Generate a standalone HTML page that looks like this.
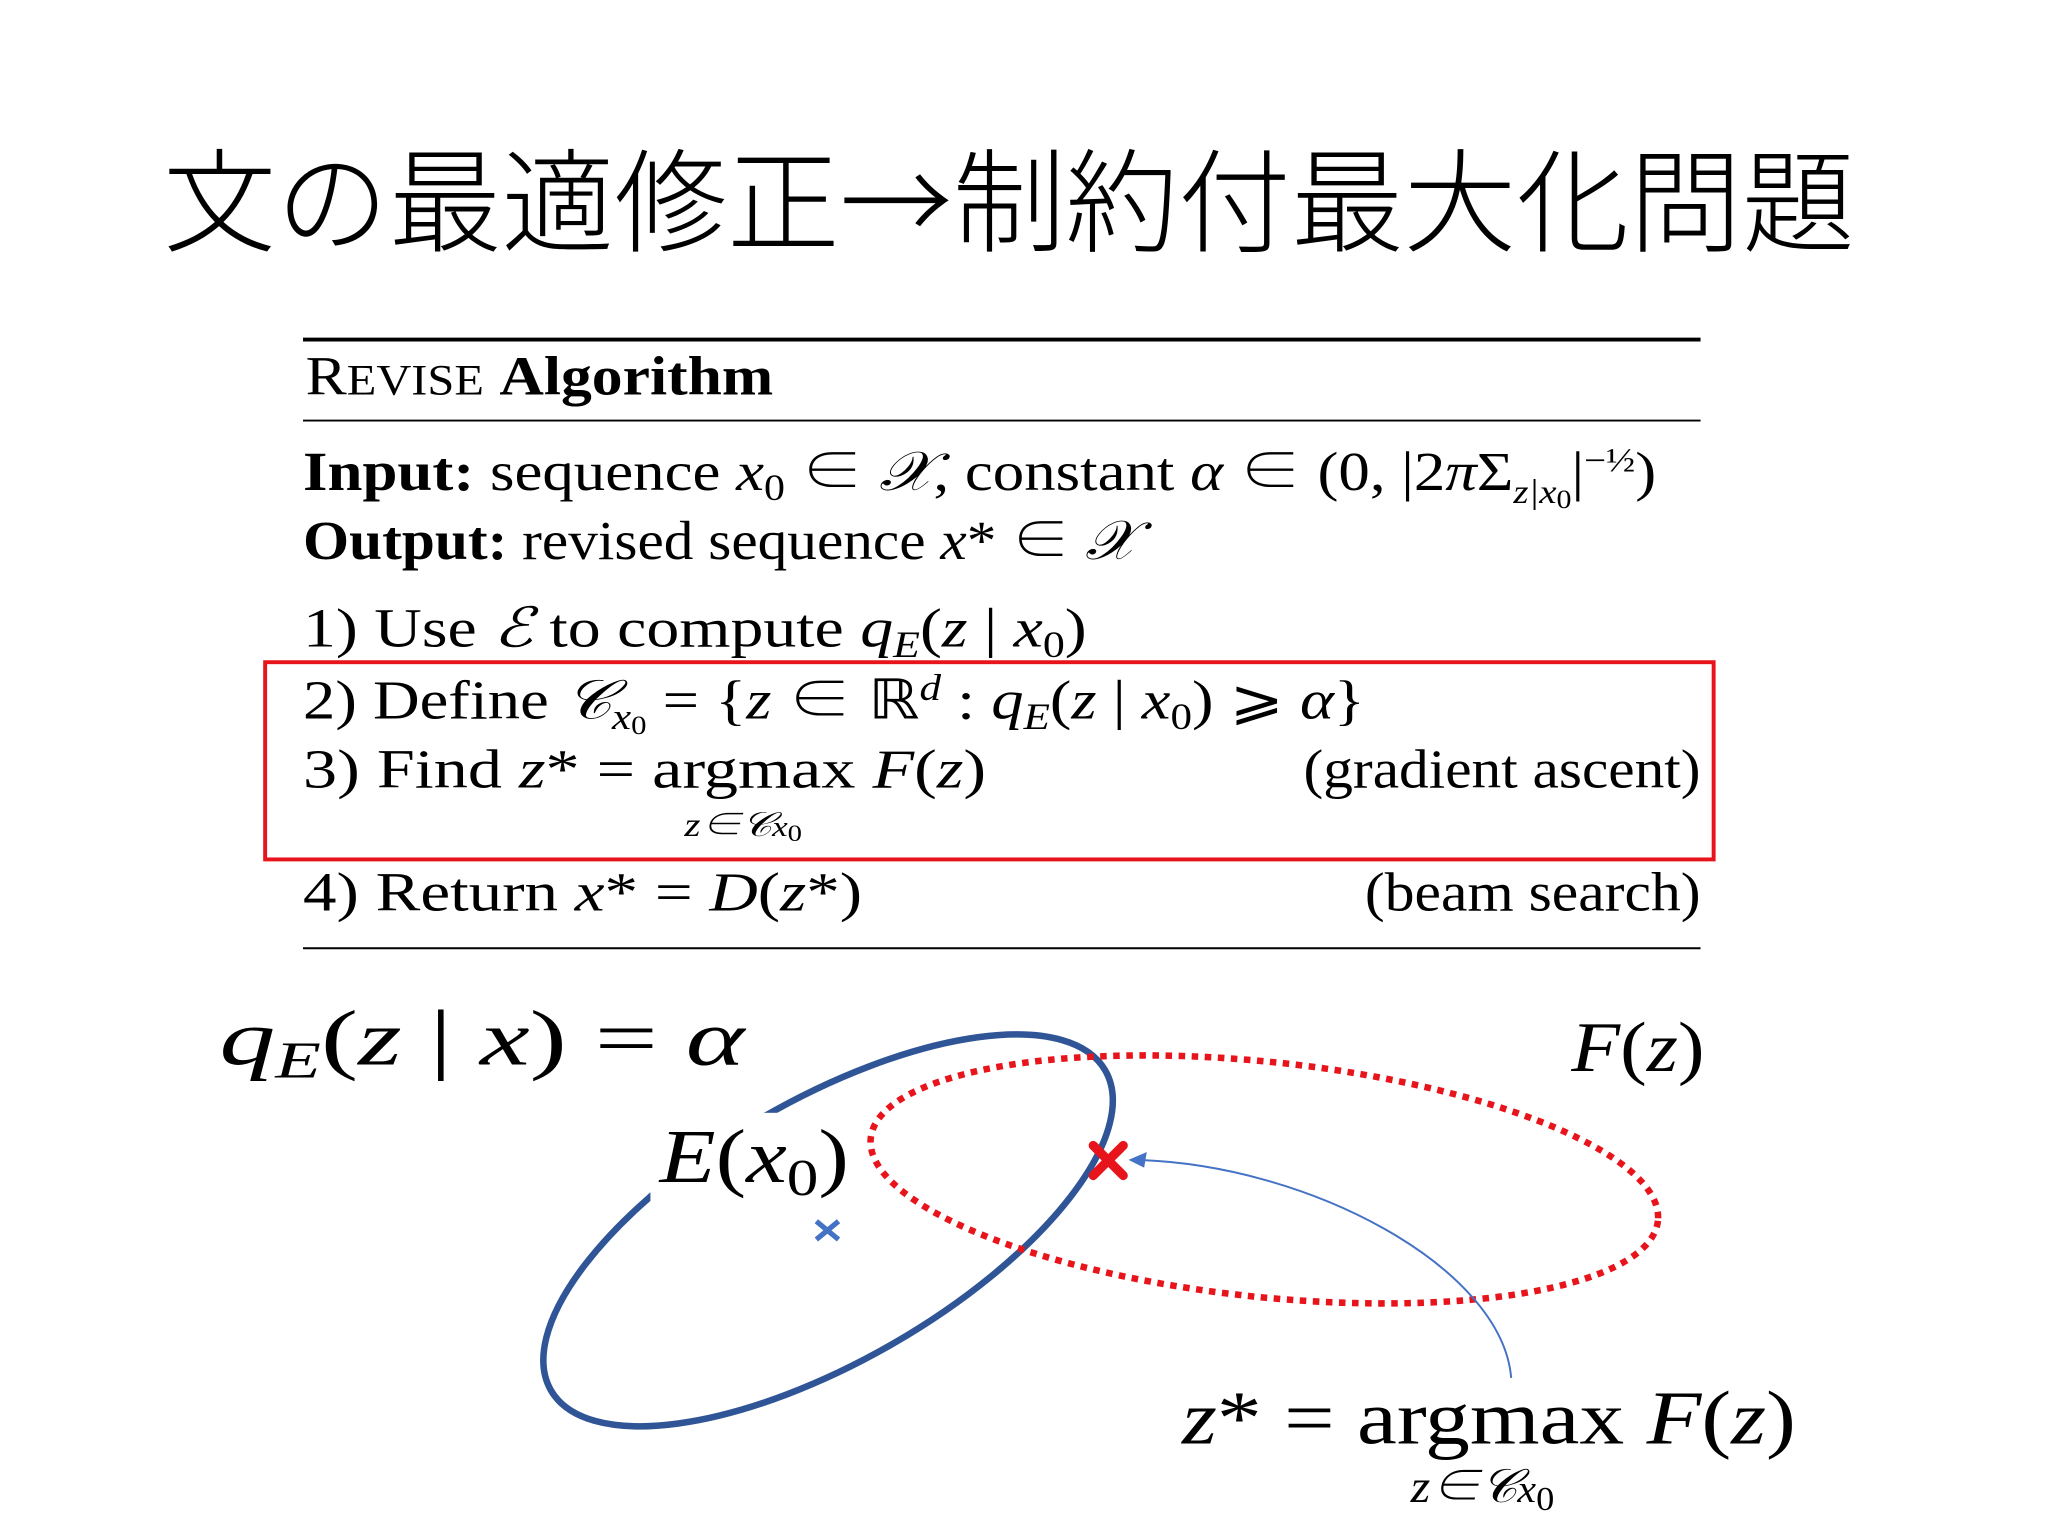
<!DOCTYPE html>
<html><head><meta charset="utf-8"><style>
html,body{margin:0;padding:0;background:#fff;}
svg{display:block;}
text{font-family:"Liberation Serif","Noto Serif CJK SC",serif;fill:#000;}
.i{font-style:italic;}
.b{font-weight:bold;}
</style></head><body>
<svg width="2048" height="1536" viewBox="0 0 1568 1176" xmlns="http://www.w3.org/2000/svg">
<rect width="1568" height="1176" fill="#fff"/>
<text x="125" y="186" font-size="86" textLength="1295" lengthAdjust="spacingAndGlyphs" style="font-family:'Noto Sans CJK JP',sans-serif;font-weight:300">文の最適修正→制約付最大化問題</text>

<line x1="232" y1="260" x2="1302" y2="260" stroke="#000" stroke-width="3"/>
<line x1="232" y1="322" x2="1302" y2="322" stroke="#000" stroke-width="1.5"/>
<line x1="232" y1="726" x2="1302" y2="726" stroke="#000" stroke-width="1.5"/>

<text x="234" y="302" font-size="42" textLength="358" lengthAdjust="spacingAndGlyphs">R<tspan font-size="33">EVISE</tspan> <tspan class="b">Algorithm</tspan></text>
<text x="232" y="375" font-size="42" textLength="1036" lengthAdjust="spacingAndGlyphs"><tspan class="b">Input:</tspan>  sequence <tspan class="i">x</tspan><tspan font-size="28" dy="8">0</tspan><tspan dy="-8"> ∈ </tspan><tspan class="i">𝒳</tspan>, constant <tspan class="i">α</tspan> ∈ (0, |2<tspan class="i">π</tspan>Σ<tspan font-size="26" dy="10" class="i">z|x</tspan><tspan font-size="20" dy="4">0</tspan><tspan dy="-14">|</tspan><tspan font-size="26" dy="-14">−½</tspan><tspan dy="14">)</tspan></text>
<text x="232" y="428" font-size="42" textLength="638" lengthAdjust="spacingAndGlyphs"><tspan class="b">Output:</tspan>  revised sequence <tspan class="i">x</tspan>* ∈ <tspan class="i">𝒳</tspan></text>
<text x="232" y="495" font-size="42" textLength="600" lengthAdjust="spacingAndGlyphs">1)  Use <tspan class="i">ℰ</tspan> to compute <tspan class="i">q</tspan><tspan font-size="28" dy="8" class="i">E</tspan><tspan dy="-8">(</tspan><tspan class="i">z</tspan> | <tspan class="i">x</tspan><tspan font-size="28" dy="8">0</tspan><tspan dy="-8">)</tspan></text>
<text x="232" y="550" font-size="42" textLength="813" lengthAdjust="spacingAndGlyphs">2)  Define <tspan class="i">𝒞</tspan><tspan font-size="28" dy="8" class="i">x</tspan><tspan font-size="20" dy="4">0</tspan><tspan dy="-12"> = {</tspan><tspan class="i">z</tspan> ∈ ℝ<tspan font-size="28" dy="-14" class="i">d</tspan><tspan dy="14"> : </tspan><tspan class="i">q</tspan><tspan font-size="28" dy="8" class="i">E</tspan><tspan dy="-8">(</tspan><tspan class="i">z</tspan> | <tspan class="i">x</tspan><tspan font-size="28" dy="8">0</tspan><tspan dy="-8">) ⩾ </tspan><tspan class="i">α</tspan>}</text>
<text x="232" y="603" font-size="42" textLength="523" lengthAdjust="spacingAndGlyphs">3)  Find <tspan class="i">z</tspan>* = argmax  <tspan class="i">F</tspan>(<tspan class="i">z</tspan>)</text>
<text x="524" y="640" font-size="26" class="i" textLength="90" lengthAdjust="spacingAndGlyphs">z∈𝒞<tspan font-size="22">x</tspan><tspan font-size="18" font-style="normal" dy="4">0</tspan></text>
<text x="998" y="603" font-size="42" textLength="304" lengthAdjust="spacingAndGlyphs">(gradient ascent)</text>
<rect x="203" y="507" width="1109" height="151" fill="none" stroke="#e8141c" stroke-width="3"/>
<text x="232" y="697" font-size="42" textLength="428" lengthAdjust="spacingAndGlyphs">4)  Return <tspan class="i">x</tspan>* = <tspan class="i">D</tspan>(<tspan class="i">z</tspan>*)</text>
<text x="1045" y="697" font-size="42" textLength="257" lengthAdjust="spacingAndGlyphs">(beam search)</text>

<text x="168" y="815" font-size="60" textLength="402" lengthAdjust="spacingAndGlyphs"><tspan class="i">q</tspan><tspan font-size="40" dy="10" class="i">E</tspan><tspan dy="-10">(</tspan><tspan class="i">z</tspan>  |  <tspan class="i">x</tspan>)  =  <tspan class="i">α</tspan></text>
<text x="1203" y="820" font-size="54" textLength="102" lengthAdjust="spacingAndGlyphs"><tspan class="i">F</tspan>(<tspan class="i">z</tspan>)</text>

<ellipse cx="634" cy="942" rx="245" ry="100" transform="rotate(-30 634 942)" fill="none" stroke="#2f5597" stroke-width="5"/>
<ellipse cx="968" cy="903" rx="303" ry="90" transform="rotate(6 968 903)" fill="none" stroke="#e8141c" stroke-width="5" stroke-dasharray="5 5"/>
<rect x="498" y="852" width="156" height="70" fill="#fff"/>
<text x="505" y="905" font-size="58" textLength="145" lengthAdjust="spacingAndGlyphs"><tspan class="i">E</tspan>(<tspan class="i">x</tspan><tspan font-size="40" dy="10">0</tspan><tspan dy="-10">)</tspan></text>
<path d="M1157 1055 C1150 970 1000 890 866 888" fill="none" stroke="#4472c4" stroke-width="1.5"/>
<path d="M864 888 L878 882 L876 894 Z" fill="#4472c4"/>
<g stroke="#e8141c" stroke-width="7" stroke-linecap="round"><line x1="837" y1="877" x2="860" y2="900"/><line x1="860" y1="877" x2="837" y2="900"/></g>
<g stroke="#4472c4" stroke-width="4"><line x1="625" y1="935" x2="642" y2="949"/><line x1="642" y1="935" x2="625" y2="949"/></g>

<text x="905" y="1105" font-size="58" textLength="470" lengthAdjust="spacingAndGlyphs"><tspan class="i">z</tspan>*  =  argmax   <tspan class="i">F</tspan>(<tspan class="i">z</tspan>)</text>
<text x="1080" y="1150" font-size="36" class="i" textLength="110" lengthAdjust="spacingAndGlyphs">z∈𝒞<tspan font-size="30">x</tspan><tspan font-size="26" font-style="normal" dy="6">0</tspan></text>
</svg>
</body></html>
